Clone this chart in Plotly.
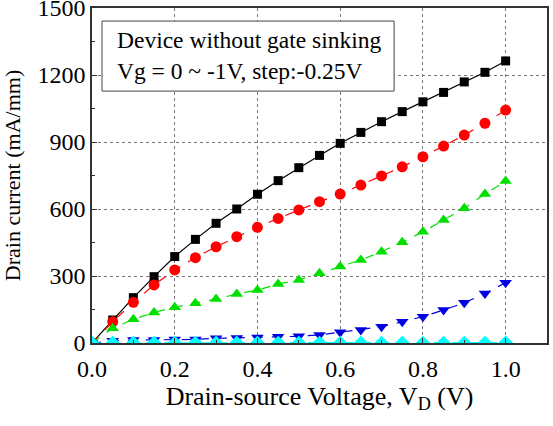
import plotly.graph_objects as go

vd = [0.0, 0.05, 0.1, 0.15, 0.2, 0.25, 0.3, 0.35, 0.4, 0.45, 0.5,
      0.55, 0.6, 0.65, 0.7, 0.75, 0.8, 0.85, 0.9, 0.95, 1.0]
id_vg0 = [0, 103, 203, 297, 387, 464, 536, 600, 666, 727, 785,
          840, 894, 943, 991, 1036, 1080, 1122, 1169, 1212, 1263]
id_vg025 = [0, 95, 182, 260, 327, 382, 431, 476, 518, 558, 596,
            633, 667, 707, 748, 789, 834, 882, 931, 984, 1043]
id_vg050 = [0, 66, 106, 137, 160, 178, 197, 219, 237, 264, 282,
            312, 342, 372, 409, 451, 498, 551, 603, 667, 725]
id_vg075 = [0, 10, 13, 13, 16, 16, 21, 22, 25, 28, 30,
            36, 48, 58, 73, 95, 118, 148, 180, 222, 270]
id_vg100 = [0, 1, 1, 1, 1, 1, 1, 1, 1, 1, 1,
            1, 1, 1, 1, 1, 1, 1, 1, 1, 2]

series = [
    ("Vg=0V", id_vg0, "black", "square", "solid", 9),
    ("Vg=-0.25V", id_vg025, "red", "circle", "dash", 11),
    ("Vg=-0.5V", id_vg050, "#00e000", "triangle-up", "dash", 11),
    ("Vg=-0.75V", id_vg075, "#0000e0", "triangle-down", "dash", 11),
    ("Vg=-1V", id_vg100, "cyan", "diamond", "dash", 11),
]

fig = go.Figure()
for name, y, color, sym, dash, size in series:
    fig.add_trace(go.Scatter(
        x=vd, y=y, name=name, mode="lines+markers",
        line=dict(color=color, width=1.2, dash=dash),
        marker=dict(symbol=sym, size=size, color=color, line=dict(width=0)),
        cliponaxis=True,
    ))

font = "Liberation Serif"
fig.update_layout(
    width=553, height=426,
    margin=dict(l=92, r=6, t=8, b=83),
    paper_bgcolor="white", plot_bgcolor="white",
    showlegend=False,
    font=dict(family=font, size=24, color="black"),
    xaxis=dict(
        range=[0, 1.1], tickvals=[0, 0.2, 0.4, 0.6, 0.8, 1.0],
        ticktext=["0.0", "0.2", "0.4", "0.6", "0.8", "1.0"],
        showgrid=True, gridcolor="#777", griddash="dot", gridwidth=1,
        showline=True, linecolor="#333", linewidth=1.5, mirror=True,
        ticks="inside", ticklen=5, tickcolor="#333",
        minor=dict(ticks="inside", ticklen=3, dtick=0.1, tickcolor="#333"),
        zeroline=False, ticklabeloverflow="allow", automargin=False,
        ticklabelstandoff=3,
        title=dict(text="Drain-source Voltage, V<sub>D</sub> (V)", standoff=0,
                   font=dict(family=font, size=26)),
        tickfont=dict(family=font, size=24),
    ),
    yaxis=dict(
        range=[0, 1500], tickvals=[0, 300, 600, 900, 1200, 1500],
        showgrid=True, gridcolor="#777", griddash="dot", gridwidth=1,
        showline=True, linecolor="#333", linewidth=1.5, mirror=True,
        ticks="inside", ticklen=5, tickcolor="#333",
        minor=dict(ticks="inside", ticklen=3, dtick=150, tickcolor="#333"),
        zeroline=False, ticklabeloverflow="allow", automargin=False,
        title=dict(text="Drain current (mA/mm)", standoff=12,
                   font=dict(family=font, size=22)),
        tickfont=dict(family=font, size=24),
    ),
)

# legend-like text box
fig.add_shape(type="rect", xref="paper", yref="paper",
              x0=0.022, x1=0.664, y0=0.752, y1=0.961,
              line=dict(color="#444", width=1), fillcolor="white", layer="above")
fig.add_annotation(
    xref="paper", yref="paper", x=0.05, y=0.857, xanchor="left", yanchor="middle",
    text="Device without gate sinking<br>Vg = 0 ~ -1V, step:-0.25V",
    showarrow=False, align="left", font=dict(family=font, size=23.5, color="black"),
)

fig.write_html("out.html")
